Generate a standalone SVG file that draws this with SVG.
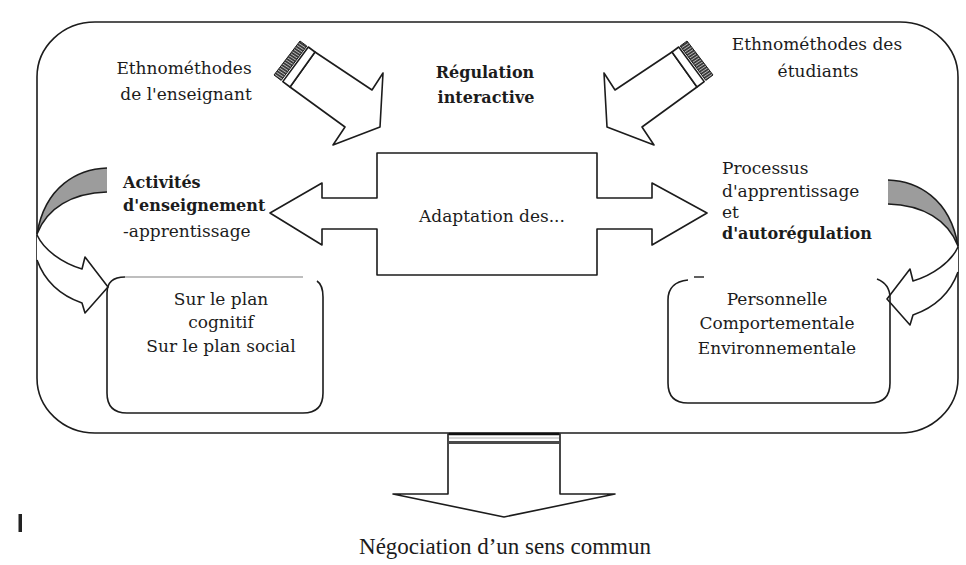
<svg xmlns="http://www.w3.org/2000/svg" width="966" height="565" viewBox="0 0 966 565">
  <style>
    .t { font-family: "DejaVu Serif", "Liberation Serif", serif; font-size: 17px; fill: #1c1c1c; }
    .b { font-weight: bold; font-size: 16px; }
    .c { text-anchor: middle; }
    .ln { fill: none; stroke: #1c1c1c; stroke-width: 1.6; stroke-linejoin: round; }
    .sh { fill: #ffffff; stroke: #1c1c1c; stroke-width: 1.6; stroke-linejoin: round; }
    .grey { fill: #9c9c9c; stroke: none; }
  </style>
  <defs>
    <!-- ladder hatching used on the tail ends of the big arrows -->
    <pattern id="hatch" patternUnits="userSpaceOnUse" width="2.6" height="2.6" patternTransform="rotate(33.5)">
      <rect width="2.6" height="2.6" fill="#3a3a3a"/>
      <line x1="0" y1="1.3" x2="2.6" y2="1.3" stroke="#d8d8d8" stroke-width="0.7"/>
    </pattern>
  </defs>

  <rect width="966" height="565" fill="#ffffff"/>

  <!-- outer frame -->
  <g id="frame">
    <rect x="37" y="22" width="921" height="411" rx="58" ry="55" class="ln" stroke-width="1.8"/>
  </g>

  <g id="connectors">
    <!-- teacher ethnomethods arrow -->
    <g id="arrow-teacher">
      <polygon class="sh" points="315,52 372,90 383,73 380,127 333,145 345,127 290,87"/>
      <polygon points="274,75 300,41 306.8,46 281.2,80.4" fill="url(#hatch)" stroke="#1c1c1c" stroke-width="1"/>
      <polygon class="sh" stroke-width="1.2" points="282.8,81.6 308.3,47 315,52 290,87"/>
    </g>
    <!-- students ethnomethods arrow (mirror) -->
    <g id="arrow-students" transform="translate(987,0) scale(-1,1)">
      <polygon class="sh" points="315,52 372,90 383,73 380,127 333,145 345,127 290,87"/>
      <polygon points="274,75 300,41 306.8,46 281.2,80.4" fill="url(#hatch)" stroke="#1c1c1c" stroke-width="1"/>
      <polygon class="sh" stroke-width="1.2" points="282.8,81.6 308.3,47 315,52 290,87"/>
    </g>

    <!-- left curved arrow -->
    <g id="curve-left">
      <path class="grey" d="M107,168 C78,169 45,186 37,234 C47,208 72,193 107,192 Z"/>
      <path class="ln" d="M107,168 C78,169 45,186 37,234 M37,234 C47,208 72,193 107,192"/>
      <path class="sh" d="M37,235 C44,250 62,263 82,269 L85,257 L108,287 L85,313 L82,303 C62,296 45,282 37,260"/>
    </g>
    <!-- right curved arrow (mirror) -->
    <g id="curve-right" transform="translate(995,12) scale(-1,1)">
      <path class="grey" d="M107,168 C78,169 45,186 37,234 C47,208 72,193 107,192 Z"/>
      <path class="ln" d="M107,168 C78,169 45,186 37,234 M37,234 C47,208 72,193 107,192"/>
      <path class="sh" d="M37,235 C44,250 62,263 82,269 L85,257 L108,287 L85,313 L82,303 C62,296 45,282 37,260"/>
    </g>

    <!-- outcome arrow below the frame -->
    <g id="arrow-outcome">
      <polygon class="sh" points="448,434 560,434 560,494 615,494 504,517 393,494 448,494"/>
      <line x1="449" y1="438" x2="559" y2="438" stroke="#b0b0b0" stroke-width="1"/>
      <rect x="449" y="441" width="110" height="3" fill="#4a4a4a"/>
      <line x1="449" y1="434" x2="559" y2="434" stroke="#111" stroke-width="2.4"/>
    </g>
  </g>

  <!-- central double arrow -->
  <g id="node-adaptation">
    <polygon class="sh" points="270,213 322,183 322,198 377,198 377,153 597,153 597,198 652,198 652,183 707,213 652,245 652,229 597,229 597,275 377,275 377,229 322,229 322,245"/>
    <text class="t c" x="492" y="222">Adaptation des...</text>
  </g>

  <g id="label-teacher">
    <text class="t c" x="184" y="74">Ethnométhodes</text>
    <text class="t c" x="186" y="100">de l'enseignant</text>
  </g>

  <g id="label-regulation">
    <text class="t b c" x="485" y="78">Régulation</text>
    <text class="t b c" x="486" y="103">interactive</text>
  </g>

  <g id="label-students">
    <text class="t c" x="817" y="50">Ethnométhodes des</text>
    <text class="t c" x="818" y="77">étudiants</text>
  </g>

  <g id="label-activities">
    <text class="t b" x="123" y="188">Activités</text>
    <text class="t b" x="123" y="211">d'enseignement</text>
    <text class="t" x="123" y="237">-apprentissage</text>
  </g>

  <g id="label-process">
    <text class="t" x="722" y="174">Processus</text>
    <text class="t" x="722" y="197">d'apprentissage</text>
    <text class="t" x="722" y="218">et</text>
    <text class="t b" x="722" y="239">d'autorégulation</text>
  </g>

  <!-- left node -->
  <g id="node-plans">
    <path class="ln" d="M107,293 Q107,277 125,277"/>
    <line x1="125" y1="277" x2="303" y2="277" stroke="#a8a8a8" stroke-width="1.6"/>
    <path class="ln" d="M317,281 Q323,285 323,297 L323,393 Q323,413 303,413 L127,413 Q107,413 107,393 L107,293"/>
    <text class="t c" x="221" y="305">Sur le plan</text>
    <text class="t c" x="221" y="328">cognitif</text>
    <text class="t c" x="221" y="352">Sur le plan social</text>
  </g>

  <!-- right node -->
  <g id="node-dimensions">
    <path class="ln" d="M688,280 Q668,282 668,300 L668,383 Q668,403 688,403 L870,403 Q890,403 890,383 L890,298 Q890,284 877,279"/>
    <line x1="694" y1="277" x2="704" y2="277" stroke="#1c1c1c" stroke-width="1.4"/>
    <text class="t c" x="777" y="305">Personnelle</text>
    <text class="t c" x="777" y="329">Comportementale</text>
    <text class="t c" x="777" y="354">Environnementale</text>
  </g>

  <!-- caption -->
  <g id="caption">
    <text x="505" y="554" text-anchor="middle" font-family="'Liberation Serif', 'Times New Roman', serif" font-size="23" fill="#1c1c1c">Négociation d’un sens commun</text>
  </g>

  <rect x="18.5" y="514" width="3.5" height="18" fill="#222222"/>
</svg>
